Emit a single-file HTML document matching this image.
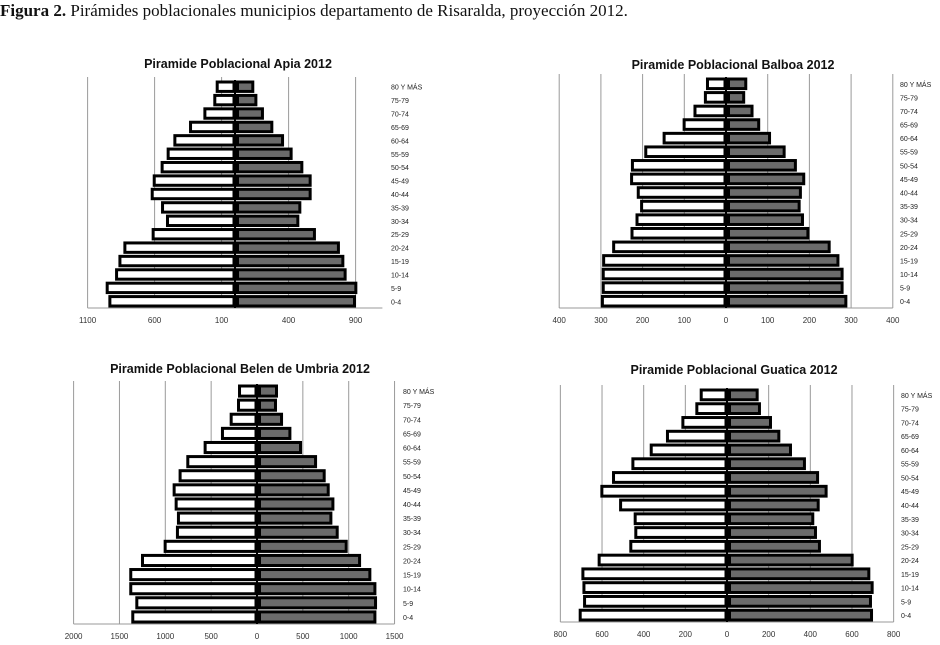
<!DOCTYPE html>
<html><head><meta charset="utf-8"><style>
body{margin:0;background:#fff;width:940px;height:645px;overflow:hidden;}
#cap{position:absolute;left:0;top:1px;font-family:"Liberation Serif",serif;font-size:17px;color:#111;white-space:nowrap;}
svg{position:absolute;left:0;top:0;}
</style></head><body>
<div id="cap"><b>Figura 2.</b> Pirámides poblacionales municipios departamento de Risaralda, proyección 2012.</div>
<svg id="svg" width="940" height="645"></svg>
<script>
const categories = ["80 Y MÁS","75-79","70-74","65-69","60-64","55-59","50-54","45-49","40-44","35-39","30-34","25-29","20-24","15-19","10-14","5-9","0-4"];
const apiaLeft = [144,162,236,343,460,510,555,614,629,552,515,622,833,870,895,965,945];
const apiaRight = [144,167,216,286,366,430,510,572,572,495,480,604,783,816,833,913,903];
const apiaTicks = [-1100,-600,-100,400,900];
const balboaLeft = [48,53,78,104,152,196,228,230,214,206,217,229,273,297,298,298,300];
const balboaRight = [51,46,66,82,108,143,170,190,182,179,187,200,251,272,282,282,291];
const balboaTicks = [-400,-300,-200,-100,0,100,200,300,400];
const belenLeft = [207,218,298,393,582,771,855,920,898,873,884,1018,1265,1393,1393,1327,1371];
const belenRight = [229,218,284,375,491,655,749,793,844,822,891,989,1135,1247,1302,1309,1302];
const belenTicks = [-2000,-1500,-1000,-500,0,500,1000,1500];
const guaticaLeft = [131,152,219,293,371,459,552,608,518,448,445,469,621,699,694,691,712];
const guaticaRight = [152,163,216,256,312,379,442,483,445,419,432,451,608,688,704,696,701];
const guaticaTicks = [-800,-600,-400,-200,0,200,400,600,800];

const NS="http://www.w3.org/2000/svg";
const svg=document.getElementById('svg');
function mk(tag,attrs,parent){const e=document.createElementNS(NS,tag);for(const k in attrs)e.setAttribute(k,attrs[k]);(parent||svg).appendChild(e);return e;}

function drawChart(cfg,left,right,ticks){
  const g=mk('g',{});
  
  
  const xs=v=>cfg.cx+v*cfg.k;
  const x0=xs(cfg.min), x1=xs(cfg.max);
  ticks.forEach(t=>{
    if(t===0)return;
    const gl=mk('line',{x1:xs(t),x2:xs(t),y1:cfg.top-3,y2:cfg.bottom,stroke:'#9a9a9a','stroke-width':1},g);
    
    
  });
  const ax=mk('line',{x1:x0,x2:x1,y1:cfg.bottom,y2:cfg.bottom,stroke:'#9a9a9a','stroke-width':1},g);
  
  
  ticks.forEach(t=>{
    const tl=mk('text',{x:xs(t),y:cfg.bottom+15,'text-anchor':'middle','font-family':'Liberation Sans, sans-serif','font-size':8,fill:'#333'},g);
    tl.textContent=Math.abs(t);
    
    
  });
  const n=categories.length, pitch=(cfg.bottom-cfg.top)/n;
  for(let i=0;i<n;i++){
    const y=cfg.top+i*pitch;
    const lx=xs(-left[i]);
    const lb=mk('rect',{x:lx+1.5,y:y+2,width:Math.max(0,cfg.cx-1-lx-1.5),height:pitch-4,fill:'#fff',stroke:'#000','stroke-width':3},g);
    
    
    const rx=xs(right[i]);
    const rb=mk('rect',{x:cfg.cx+1+1.5,y:y+2,width:Math.max(0,rx-cfg.cx-1-3),height:pitch-4,fill:'#6b6b6b',stroke:'#000','stroke-width':3},g);
    
    
    const cl=mk('text',{x:cfg.lx,y:y+pitch/2+3,'font-family':'Liberation Sans, sans-serif','font-size':7,fill:'#222'},g);
    cl.textContent=categories[i];
    
    
  }
  const c=mk('line',{x1:cfg.cx,x2:cfg.cx,y1:cfg.top,y2:cfg.bottom,stroke:'#000','stroke-width':2},g);
  
  
  const t=mk('text',{x:cfg.tx,y:cfg.ty,'text-anchor':'middle','font-family':'Liberation Sans, sans-serif','font-size':12.5,'font-weight':'bold',fill:'#111'},g);
  t.textContent=cfg.title;
  
  
}
drawChart({name:'apia-chart',cx:235,k:0.134,min:-1100,max:1100,top:80,bottom:308,lx:391,tx:238,ty:68,title:'Piramide Poblacional Apia 2012'},apiaLeft,apiaRight,apiaTicks);
drawChart({name:'balboa-chart',cx:726,k:0.417,min:-400,max:400,top:77,bottom:308,lx:900,tx:733,ty:69,title:'Piramide Poblacional Balboa 2012'},balboaLeft,balboaRight,balboaTicks);
drawChart({name:'belen-chart',cx:257,k:0.0917,min:-2000,max:1500,top:384,bottom:624,lx:403,tx:240,ty:373,title:'Piramide Poblacional Belen de Umbria 2012'},belenLeft,belenRight,belenTicks);
drawChart({name:'guatica-chart',cx:727,k:0.2083,min:-800,max:800,top:388,bottom:622,lx:901,tx:734,ty:374,title:'Piramide Poblacional Guatica 2012'},guaticaLeft,guaticaRight,guaticaTicks);
</script>
</body></html>
